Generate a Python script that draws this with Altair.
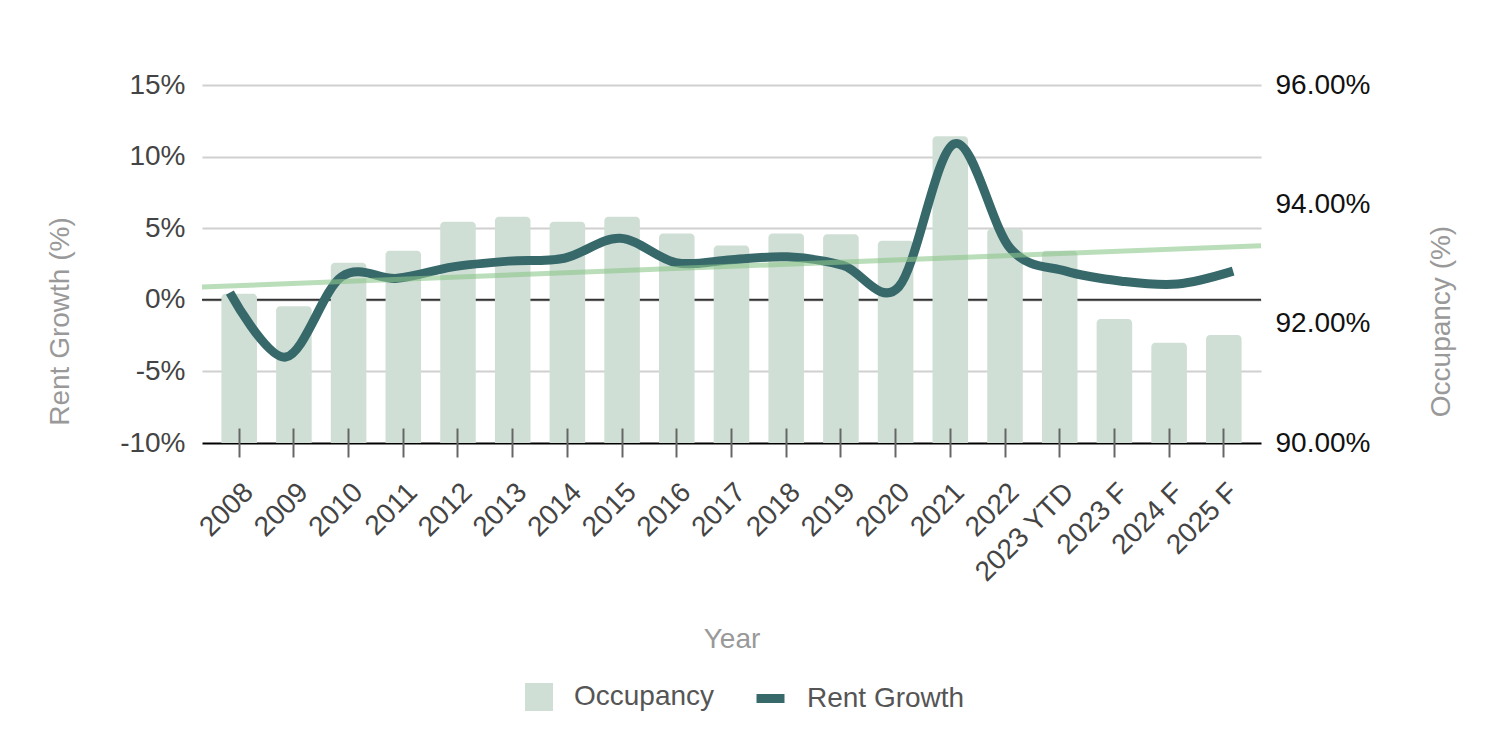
import altair as alt
import pandas as pd

years = ["2008", "2009", "2010", "2011", "2012", "2013", "2014", "2015", "2016",
         "2017", "2018", "2019", "2020", "2021", "2022", "2023 YTD", "2023 F",
         "2024 F", "2025 F"]
occupancy = [92.50, 92.29, 93.02, 93.22, 93.71, 93.79, 93.71, 93.79, 93.51,
             93.31, 93.51, 93.50, 93.39, 95.14, 93.59, 93.22, 92.08, 91.68, 91.81]
rent_growth = [0.5, -4.0, 1.6, 1.5, 2.3, 2.7, 2.9, 4.3, 2.6,
               2.8, 3.0, 2.4, 0.9, 10.9, 3.6, 2.0, 1.3, 1.1, 2.0]

df = pd.DataFrame({
    "year": years,
    "idx": list(range(len(years))),
    "occ": occupancy,
    "rent": rent_growth,
    "s_occ": ["Occupancy"] * len(years),
    "s_rent": ["Rent Growth"] * len(years),
})

FONT = "Liberation Sans"
P_IN, P_OUT = 0.35, 0.355
edge = P_OUT + (1 - P_IN) / 2
xdom = [-edge, len(years) - 1 + edge]

xscale = alt.Scale(paddingInner=P_IN, paddingOuter=P_OUT)

bars = alt.Chart(df).mark_bar(cornerRadiusTopLeft=4, cornerRadiusTopRight=4).encode(
    x=alt.X("year:N", sort=years, scale=xscale,
            axis=alt.Axis(orient="bottom", offset=-15, tickSize=29, tickColor="#666",
                          tickWidth=2, domain=False, grid=False, labelAngle=315,
                          labelFontSize=28, labelColor="#444", labelPadding=21,
                          title="Year", titleColor="#999", titleFontSize=28,
                          titleFontWeight="normal", titleY=219,
                          titleBaseline="alphabetic", zindex=1)),
    y=alt.Y("occ:Q", scale=alt.Scale(domain=[90, 96], nice=False, zero=False),
            axis=alt.Axis(orient="right", values=[90, 92, 94, 96],
                          labelExpr="format(datum.value, '.2f') + '%'",
                          grid=False, ticks=False, domain=False,
                          labelFontSize=28, labelColor="#111", labelPadding=14,
                          title="Occupancy (%)", titleColor="#999", titleFontSize=28,
                          titleFontWeight="normal", titleAngle=270, titleX=180,
                          titleY=236, titleAlign="center", titleBaseline="middle")),
    y2=alt.datum(90),
    color=alt.Color("s_occ:N", scale=alt.Scale(domain=["Occupancy"], range=["#d0dfd5"]),
                    legend=alt.Legend(orient="none", legendX=323, legendY=598, title=None,
                                      symbolType="square", symbolSize=784,
                                      symbolStrokeWidth=0, labelFontSize=28,
                                      labelColor="#555", labelOffset=21, padding=0)),
)

line = alt.Chart(df).mark_line(interpolate="cardinal", strokeWidth=9, strokeCap="butt").encode(
    x=alt.X("year:N", sort=years, scale=xscale, axis=None),
    y=alt.Y("rent:Q", scale=alt.Scale(domain=[-10, 15], nice=False),
            axis=alt.Axis(orient="left", values=[-10, -5, 0, 5, 10, 15],
                          labelExpr="datum.value + '%'", grid=True,
                          gridColor={"condition": {"test": "datum.value === -10", "value": "#000"},
                                     "value": "#d0d0d0"},
                          gridWidth=2, ticks=False, domain=False,
                          labelFontSize=28, labelColor="#444", labelPadding=17,
                          title="Rent Growth (%)", titleColor="#999", titleFontSize=28,
                          titleFontWeight="normal", titleAngle=270, titleX=-142,
                          titleY=236, titleAlign="center", titleBaseline="middle")),
    stroke=alt.Stroke("s_rent:N", scale=alt.Scale(domain=["Rent Growth"], range=["#37686a"]),
                      legend=alt.Legend(orient="none", legendX=550, legendY=595, title=None,
                                        symbolType="stroke", symbolSize=784,
                                        symbolStrokeWidth=9, labelFontSize=28,
                                        labelColor="#555", labelOffset=18, padding=0)),
)

zero_rule = alt.Chart(df).mark_rule(color="#333", strokeWidth=2).encode(
    y=alt.Y("z:Q", scale=alt.Scale(domain=[-10, 15], nice=False), axis=None),
).transform_calculate(z="0").transform_filter("datum.idx === 0")

trend = alt.Chart(df).transform_regression(
    "idx", "rent", extent=xdom
).mark_line(color="#8cc68c", opacity=0.6, strokeWidth=5).encode(
    x=alt.X("idx:Q", scale=alt.Scale(domain=xdom, nice=False, zero=False), axis=None),
    y=alt.Y("rent:Q", scale=alt.Scale(domain=[-10, 15], nice=False), axis=None),
)

chart = alt.layer(zero_rule, bars, line, trend).resolve_scale(
    x="independent", y="independent"
).properties(
    width=1059, height=358,
    padding={"left": 194, "top": 77, "right": 200, "bottom": 290},
    autosize=alt.AutoSizeParams(type="none"),
).configure_view(stroke=None).configure_axis(
    labelFont=FONT, titleFont=FONT
).configure_legend(labelFont=FONT)

chart.save("out.html", embed_options={"renderer": "svg", "actions": False})
